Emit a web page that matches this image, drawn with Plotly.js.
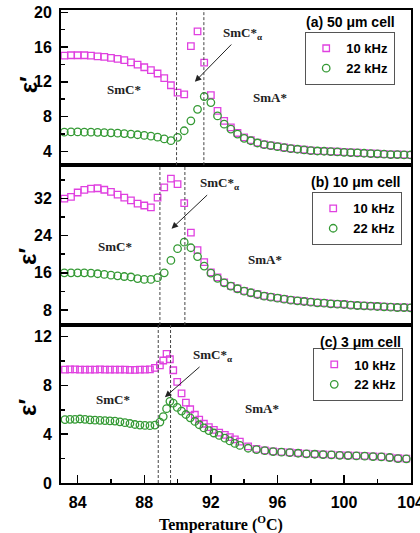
<!DOCTYPE html>
<html>
<head>
<meta charset="utf-8">
<script src="https://cdn.plot.ly/plotly-3.0.1.min.js"></script>
<style>
  html, body { margin: 0; padding: 0; background: #fff; }
  #chart { width: 420px; height: 533px; }
</style>
</head>
<body>
<div id="chart"></div>
<script>
// Temperature grid (°C) shared by the 50 µm and 10 µm cell scans
const tempAB = [83.2, 83.6, 84.0, 84.4, 84.8, 85.2, 85.6, 86.0, 86.4, 86.8,
  87.2, 87.6, 88.0, 88.4, 88.8, 89.2, 89.6, 90.0, 90.4, 90.8,
  91.2, 91.6, 92.0, 92.4, 92.8, 93.2, 93.6, 94.0, 94.4, 94.8,
  95.2, 95.6, 96.0, 96.4, 96.8, 97.2, 97.6, 98.0, 98.4, 98.8,
  99.2, 99.6, 100.0, 100.4, 100.8, 101.2, 101.6, 102.0, 102.4, 102.8,
  103.2, 103.6, 104.0];

// (a) 50 µm cell
const a10k = [15.0, 15.05, 15.05, 15.05, 15.0, 14.93, 14.86, 14.75, 14.63, 14.48,
  14.24, 13.98, 13.67, 13.33, 12.95, 12.42, 11.6, 10.75, 10.55, 16.1,
  17.8, 14.2, 10.45, 8.65, 7.5, 6.75, 6.1, 5.6, 5.28, 5.0,
  4.8, 4.67, 4.55, 4.43, 4.32, 4.25, 4.17, 4.09, 4.05, 4.02,
  3.98, 3.94, 3.9, 3.87, 3.83, 3.79, 3.75, 3.72, 3.68, 3.64,
  3.63, 3.6, 3.59];
const a22k = [6.2, 6.22, 6.22, 6.2, 6.2, 6.18, 6.15, 6.12, 6.08, 6.03,
  5.98, 5.9, 5.82, 5.74, 5.62, 5.42, 5.22, 5.6, 6.36, 7.5,
  8.83, 10.3, 9.6, 8.07, 7.12, 6.55, 5.98, 5.49, 5.21, 4.95,
  4.76, 4.64, 4.53, 4.41, 4.3, 4.23, 4.15, 4.07, 4.03, 4.0,
  3.96, 3.92, 3.88, 3.85, 3.81, 3.77, 3.73, 3.7, 3.66, 3.62,
  3.62, 3.58, 3.58];

// (b) 10 µm cell
const b10k = [32.0, 32.35, 33.3, 33.86, 34.16, 34.22, 33.9, 33.43, 32.86, 32.2,
  31.6, 30.9, 30.5, 30.1, 32.2, 34.4, 36.3, 35.1, 31.0, 24.65,
  20.9, 18.3, 16.1, 15.0, 13.95, 13.2, 12.62, 12.1, 11.75, 11.38,
  11.02, 10.8, 10.58, 10.37, 10.15, 10.02, 9.87, 9.72, 9.59, 9.5,
  9.37, 9.29, 9.22, 9.07, 9.0, 8.94, 8.85, 8.79, 8.72, 8.64,
  8.57, 8.56, 8.5];
const b22k = [16.0, 16.0, 16.0, 16.0, 15.95, 15.8, 15.65, 15.5, 15.35, 15.2,
  15.1, 14.75, 14.57, 14.57, 14.95, 16.0, 18.67, 21.2, 22.6, 21.4,
  19.5, 17.45, 15.95, 14.8, 13.85, 13.13, 12.56, 12.05, 11.7, 11.33,
  10.97, 10.75, 10.53, 10.32, 10.1, 9.97, 9.82, 9.67, 9.54, 9.45,
  9.32, 9.24, 9.17, 9.02, 8.95, 8.89, 8.8, 8.74, 8.67, 8.59,
  8.52, 8.52, 8.45];

// (c) 3 µm cell, finer steps around the transitions
const tempC = [83.24, 83.54, 83.84, 84.14, 84.44, 84.74, 85.04, 85.34, 85.64, 85.94,
  86.24, 86.54, 86.84, 87.14, 87.44, 87.74, 88.04, 88.34, 88.64, 88.94,
  89.14, 89.34, 89.54, 89.74, 89.98, 90.24, 90.5, 90.76, 91.04, 91.3,
  91.58, 91.88, 92.18, 92.5, 92.84, 93.14, 93.44, 93.74,
  94.24, 94.74, 95.24, 95.74, 96.24, 96.74, 97.24, 97.74, 98.24, 98.74,
  99.24, 99.74, 100.24, 100.74, 101.24, 101.74, 102.24, 102.74, 103.24, 103.74];
const c10k = [9.3, 9.32, 9.32, 9.3, 9.3, 9.3, 9.3, 9.32, 9.3, 9.3,
  9.3, 9.3, 9.3, 9.28, 9.28, 9.3, 9.3, 9.32, 9.45, 9.65,
  10.05, 10.6, 10.15, 9.25, 8.3, 7.35, 6.6, 6.05, 5.6, 5.2,
  4.86, 4.58, 4.36, 4.14, 3.94, 3.76, 3.58, 3.4,
  3.0, 2.8, 2.68, 2.6, 2.55, 2.51, 2.46, 2.41, 2.38, 2.35,
  2.32, 2.29, 2.27, 2.24, 2.22, 2.19, 2.16, 2.11, 2.03, 2.0];
const c22k = [5.2, 5.22, 5.22, 5.25, 5.22, 5.18, 5.15, 5.14, 5.12, 5.1,
  5.08, 5.02, 4.95, 4.88, 4.8, 4.75, 4.72, 4.7, 4.75, 5.0,
  5.45, 6.1, 6.7, 6.55, 6.2, 5.9, 5.62, 5.35, 5.05, 4.78,
  4.52, 4.3, 4.1, 3.9, 3.68, 3.45, 3.25, 3.08,
  2.85, 2.74, 2.65, 2.58, 2.53, 2.49, 2.44, 2.39, 2.36, 2.33,
  2.3, 2.27, 2.25, 2.22, 2.2, 2.17, 2.14, 2.09, 2.0, 1.98];

const seriesNames = ['10 kHz', '22 kHz'];
const panelTitles = ['(a) 50 μm cell', '(b) 10 μm cell', '(c) 3 μm cell'];
// Phase transition temperatures marked by dashed lines
const transA = [89.94, 91.58];
const transB = [88.94, 90.44];
const transC = [88.84, 89.58];

const MAGENTA = '#e040e0';
const GREEN = '#359a35';
const SANS = 'Liberation Sans, Arial, sans-serif';
const SERIF = 'Liberation Serif, Times New Roman, serif';

function pair(x, y10, y22, xa, ya, leg) {
  return [
    { type: 'scatter', mode: 'markers', x: x, y: y10, name: seriesNames[0],
      xaxis: xa, yaxis: ya, legend: leg, cliponaxis: true,
      marker: { symbol: 'square-open', size: 6.5, color: MAGENTA, line: { width: 1.3, color: MAGENTA } } },
    { type: 'scatter', mode: 'markers', x: x, y: y22, name: seriesNames[1],
      xaxis: xa, yaxis: ya, legend: leg, cliponaxis: true,
      marker: { symbol: 'circle-open', size: 7.5, color: GREEN, line: { width: 1.3, color: GREEN } } }
  ];
}

const traces = [].concat(
  pair(tempAB, a10k, a22k, 'x3', 'y3', 'legend3'),
  pair(tempAB, b10k, b22k, 'x2', 'y2', 'legend2'),
  pair(tempC, c10k, c22k, 'x', 'y', 'legend')
);

function xAxis(anchor, labelled) {
  return {
    anchor: anchor, domain: [0, 1], range: [83, 104.02],
    tick0: 84, dtick: 4,
    ticks: labelled ? 'inside' : '', ticklen: 8, tickwidth: 1.5, tickcolor: '#000',
    minor: labelled ? { dtick: 2, ticks: 'inside', ticklen: 4.5, tickwidth: 1.5, tickcolor: '#000' } : { ticks: '' },
    showline: true, linewidth: 2, linecolor: '#000', mirror: true,
    showgrid: false, zeroline: false, showticklabels: labelled,
    ticklabelstandoff: 4, ticklabeloverflow: 'allow',
    tickfont: { family: SANS, size: 16, weight: 'bold', color: '#000' }
  };
}

function yAxis(anchor, domain, range, tick0, dtick, minor) {
  return {
    anchor: anchor, domain: domain, range: range, tick0: tick0, dtick: dtick,
    ticks: 'inside', ticklen: 7, tickwidth: 1.5, tickcolor: '#000',
    minor: { tick0: tick0, dtick: minor, ticks: 'inside', ticklen: 4, tickwidth: 1.5, tickcolor: '#000' },
    showline: true, linewidth: 2, linecolor: '#000', mirror: true,
    showgrid: false, zeroline: false, ticklabelstandoff: 4,
    tickfont: { family: SANS, size: 16, weight: 'bold', color: '#000' }
  };
}

function legendBox(x, y) {
  return {
    x: x, y: y, xanchor: 'right', yanchor: 'top',
    bgcolor: '#fff', bordercolor: '#555', borderwidth: 1.3,
    font: { family: SANS, size: 13, weight: 'bold', color: '#000' },
    itemwidth: 30, tracegroupgap: 0
  };
}

const shapes = [];
function dashed(list, xr, yr) {
  list.forEach(t => shapes.push({
    type: 'line', xref: xr, yref: yr + ' domain', x0: t, x1: t, y0: 0, y1: 1,
    line: { color: '#444', width: 1, dash: '3px,2px' }
  }));
}
dashed(transA, 'x3', 'y3');
dashed(transB, 'x2', 'y2');
dashed(transC, 'x', 'y');

const phaseFont = { family: SERIF, size: 13, weight: 'bold', color: '#222' };
const annotations = [];
function phase(text, x, y, xr, yr) {
  annotations.push({ text: text, x: x, y: y, xref: xr, yref: yr, showarrow: false,
    xanchor: 'center', yanchor: 'middle', font: phaseFont });
}
// SmC*α label with an arrow pointing to the intermediate phase
function arrowLabel(x, y, ax, ay, xr, yr) {
  annotations.push({ text: 'SmC*<sub>α</sub>', x: x, y: y, ax: ax, ay: ay, xref: xr, yref: yr,
    axref: xr, ayref: yr, showarrow: true, arrowhead: 2, arrowsize: 1.3,
    arrowwidth: 1, arrowcolor: '#222', standoff: 0, startstandoff: 2, font: phaseFont });
}

// (a)
phase('SmC*', 86.78, 11.1, 'x3', 'y3');
phase('SmA*', 95.54, 10.2, 'x3', 'y3');
arrowLabel(91.04, 12.0, 93.9, 17.6, 'x3', 'y3');
// (b)
phase('SmC*', 86.24, 21.65, 'x2', 'y2');
phase('SmA*', 95.24, 18.85, 'x2', 'y2');
arrowLabel(89.64, 25.5, 92.5, 35.2, 'x2', 'y2');
// (c)
phase('SmC*', 86.12, 6.82, 'x', 'y');
phase('SmA*', 95.06, 6.08, 'x', 'y');
arrowLabel(89.24, 7.04, 92.1, 10.45, 'x', 'y');

// Panel captions
const titleFont = { family: SANS, size: 14, weight: 'bold', color: '#000' };
[[0.96, 0.975], [0.975, 0.636], [0.977, 0.298]].forEach((p, i) => {
  annotations.push({ text: panelTitles[i], x: p[0], y: p[1], xref: 'paper', yref: 'paper',
    xanchor: 'right', yanchor: 'middle', showarrow: false, font: titleFont });
});

// Permittivity labels for each panel
[0.841, 0.478, 0.159].forEach(y => {
  annotations.push({ text: 'ε′', x: -0.094, y: y, xref: 'paper', yref: 'paper',
    xanchor: 'center', yanchor: 'middle', textangle: -90, showarrow: false,
    font: { family: SANS, size: 24, weight: 'bold', color: '#000' } });
});

// Temperature axis title
annotations.push({ text: 'Temperature (<sup>O</sup>C)', x: 0.457, y: -0.085,
  xref: 'paper', yref: 'paper', xanchor: 'center', yanchor: 'middle', showarrow: false,
  font: { family: SERIF, size: 16, weight: 'bold', color: '#000' } });

const layout = {
  width: 420, height: 533,
  margin: { l: 61, r: 9, t: 10, b: 50 },
  paper_bgcolor: '#fff', plot_bgcolor: '#fff',
  showlegend: true,
  xaxis: xAxis('y', true),
  xaxis2: xAxis('y2', false),
  xaxis3: xAxis('y3', false),
  yaxis: yAxis('x', [0, 0.334], [0, 12.96], 0, 4, 2),
  yaxis2: yAxis('x2', [0.334, 0.672], [4.75, 39.2], 8, 8, 4),
  yaxis3: yAxis('x3', [0.672, 1], [2.4, 20.26], 4, 4, 2),
  legend: legendBox(0.977, 0.285),
  legend2: legendBox(0.974, 0.615),
  legend3: legendBox(0.954, 0.9535),
  shapes: shapes,
  annotations: annotations
};

Plotly.newPlot('chart', traces, layout, { displayModeBar: false, staticPlot: true });
</script>
</body>
</html>
